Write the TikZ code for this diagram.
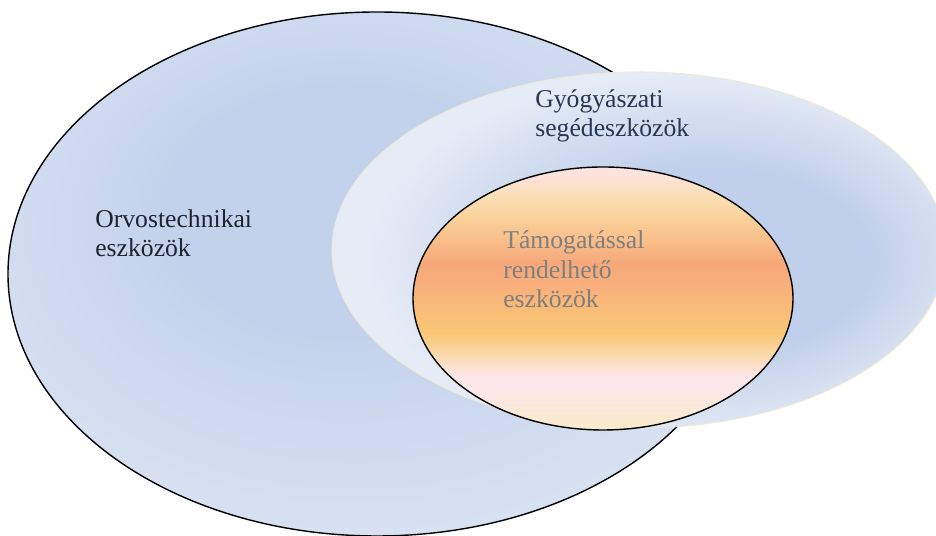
\documentclass[tikz,border=0pt]{standalone}
\usepackage{fontspec}
\setmainfont{Liberation Serif}
\usetikzlibrary{shapes.geometric}
\definecolor{outerblue}{RGB}{195, 210, 236}
\definecolor{outerlight}{RGB}{225, 232, 245}
\definecolor{aidblue}{RGB}{192, 207, 235}
\definecolor{aidlight}{RGB}{230, 236, 246}
\definecolor{aidrim}{RGB}{236, 233, 214}
\definecolor{supcream}{RGB}{250, 235, 208}
\definecolor{suprose}{RGB}{252, 230, 230}
\definecolor{suppink}{RGB}{253, 230, 236}
\definecolor{suppeach}{RGB}{250, 217, 168}
\definecolor{supyellow}{RGB}{249, 198, 118}
\definecolor{supamber}{RGB}{249, 191, 119}
\definecolor{supmid}{RGB}{248, 176, 124}
\definecolor{supsalmon}{RGB}{247, 168, 122}
\definecolor{supapricot}{RGB}{249, 190, 138}
\definecolor{supsand}{RGB}{249, 210, 154}
\definecolor{suplight}{RGB}{251, 221, 176}
\definecolor{suptop}{RGB}{252, 227, 223}
\definecolor{labeldark}{RGB}{30, 36, 50}
\definecolor{labelnavy}{RGB}{38, 56, 84}
\definecolor{labelgray}{RGB}{127, 127, 127}

% fills for the three sets
\pgfdeclareradialshading{outershade}{\pgfpoint{-3bp}{8bp}}{color(0bp)=(outerblue); color(12bp)=(outerblue); color(36bp)=(outerlight); color(50bp)=(outerlight)}
\pgfdeclareradialshading{aidshade}{\pgfpoint{8bp}{-2bp}}{color(0bp)=(aidblue); color(13bp)=(aidblue); color(26bp)=(aidlight); color(50bp)=(aidlight)}
\pgfdeclareverticalshading{supportshade}{100bp}{color(0bp)=(supcream); color(26.9bp)=(supcream); color(32bp)=(suprose); color(35.1bp)=(suppink); color(39.6bp)=(suppeach); color(43.4bp)=(supyellow); color(47.2bp)=(supamber); color(52.2bp)=(supmid); color(56.7bp)=(supsalmon); color(61.1bp)=(supapricot); color(65.5bp)=(supsand); color(68.7bp)=(suplight); color(73.9bp)=(suptop); color(100bp)=(suptop)}

\begin{document}
\begin{tikzpicture}[
    setoval/.style={ellipse, inner sep=0pt, line width=0.8pt, shade},
    setlabel/.style={font=\fontsize{14.6}{16.8}\selectfont, align=left, anchor=base west, inner sep=0pt},
]
    % Canvas
    \path[use as bounding box, clip] (0,0) rectangle (18.72,10.72);

    % Sets
    \node[setoval, draw=black, shading=outershade, minimum width=14.76cm, minimum height=10.48cm] (devices) at (7.54, 5.24) {};
    \node[setoval, draw=aidrim, line width=0.6pt, shading=aidshade, minimum width=12.28cm, minimum height=7.12cm] (aids) at (12.78, 5.72) {};
    \node[setoval, draw=black, shading=supportshade, minimum width=7.6cm, minimum height=5.26cm] (supported) at (12.06, 4.75) {};

    % Labels (anchored on the last line)
    \node[setlabel, text=labeldark] (deviceslabel) at (1.9, 5.58) {Orvostechnikai\\eszközök};
    \node[setlabel, text=labelnavy] (aidslabel) at (10.7, 7.98) {Gyógyászati\\segédeszközök};
    \node[setlabel, text=labelgray] (supportedlabel) at (10.06, 4.56) {Támogatással\\rendelhető\\eszközök};

\end{tikzpicture}
\end{document}
